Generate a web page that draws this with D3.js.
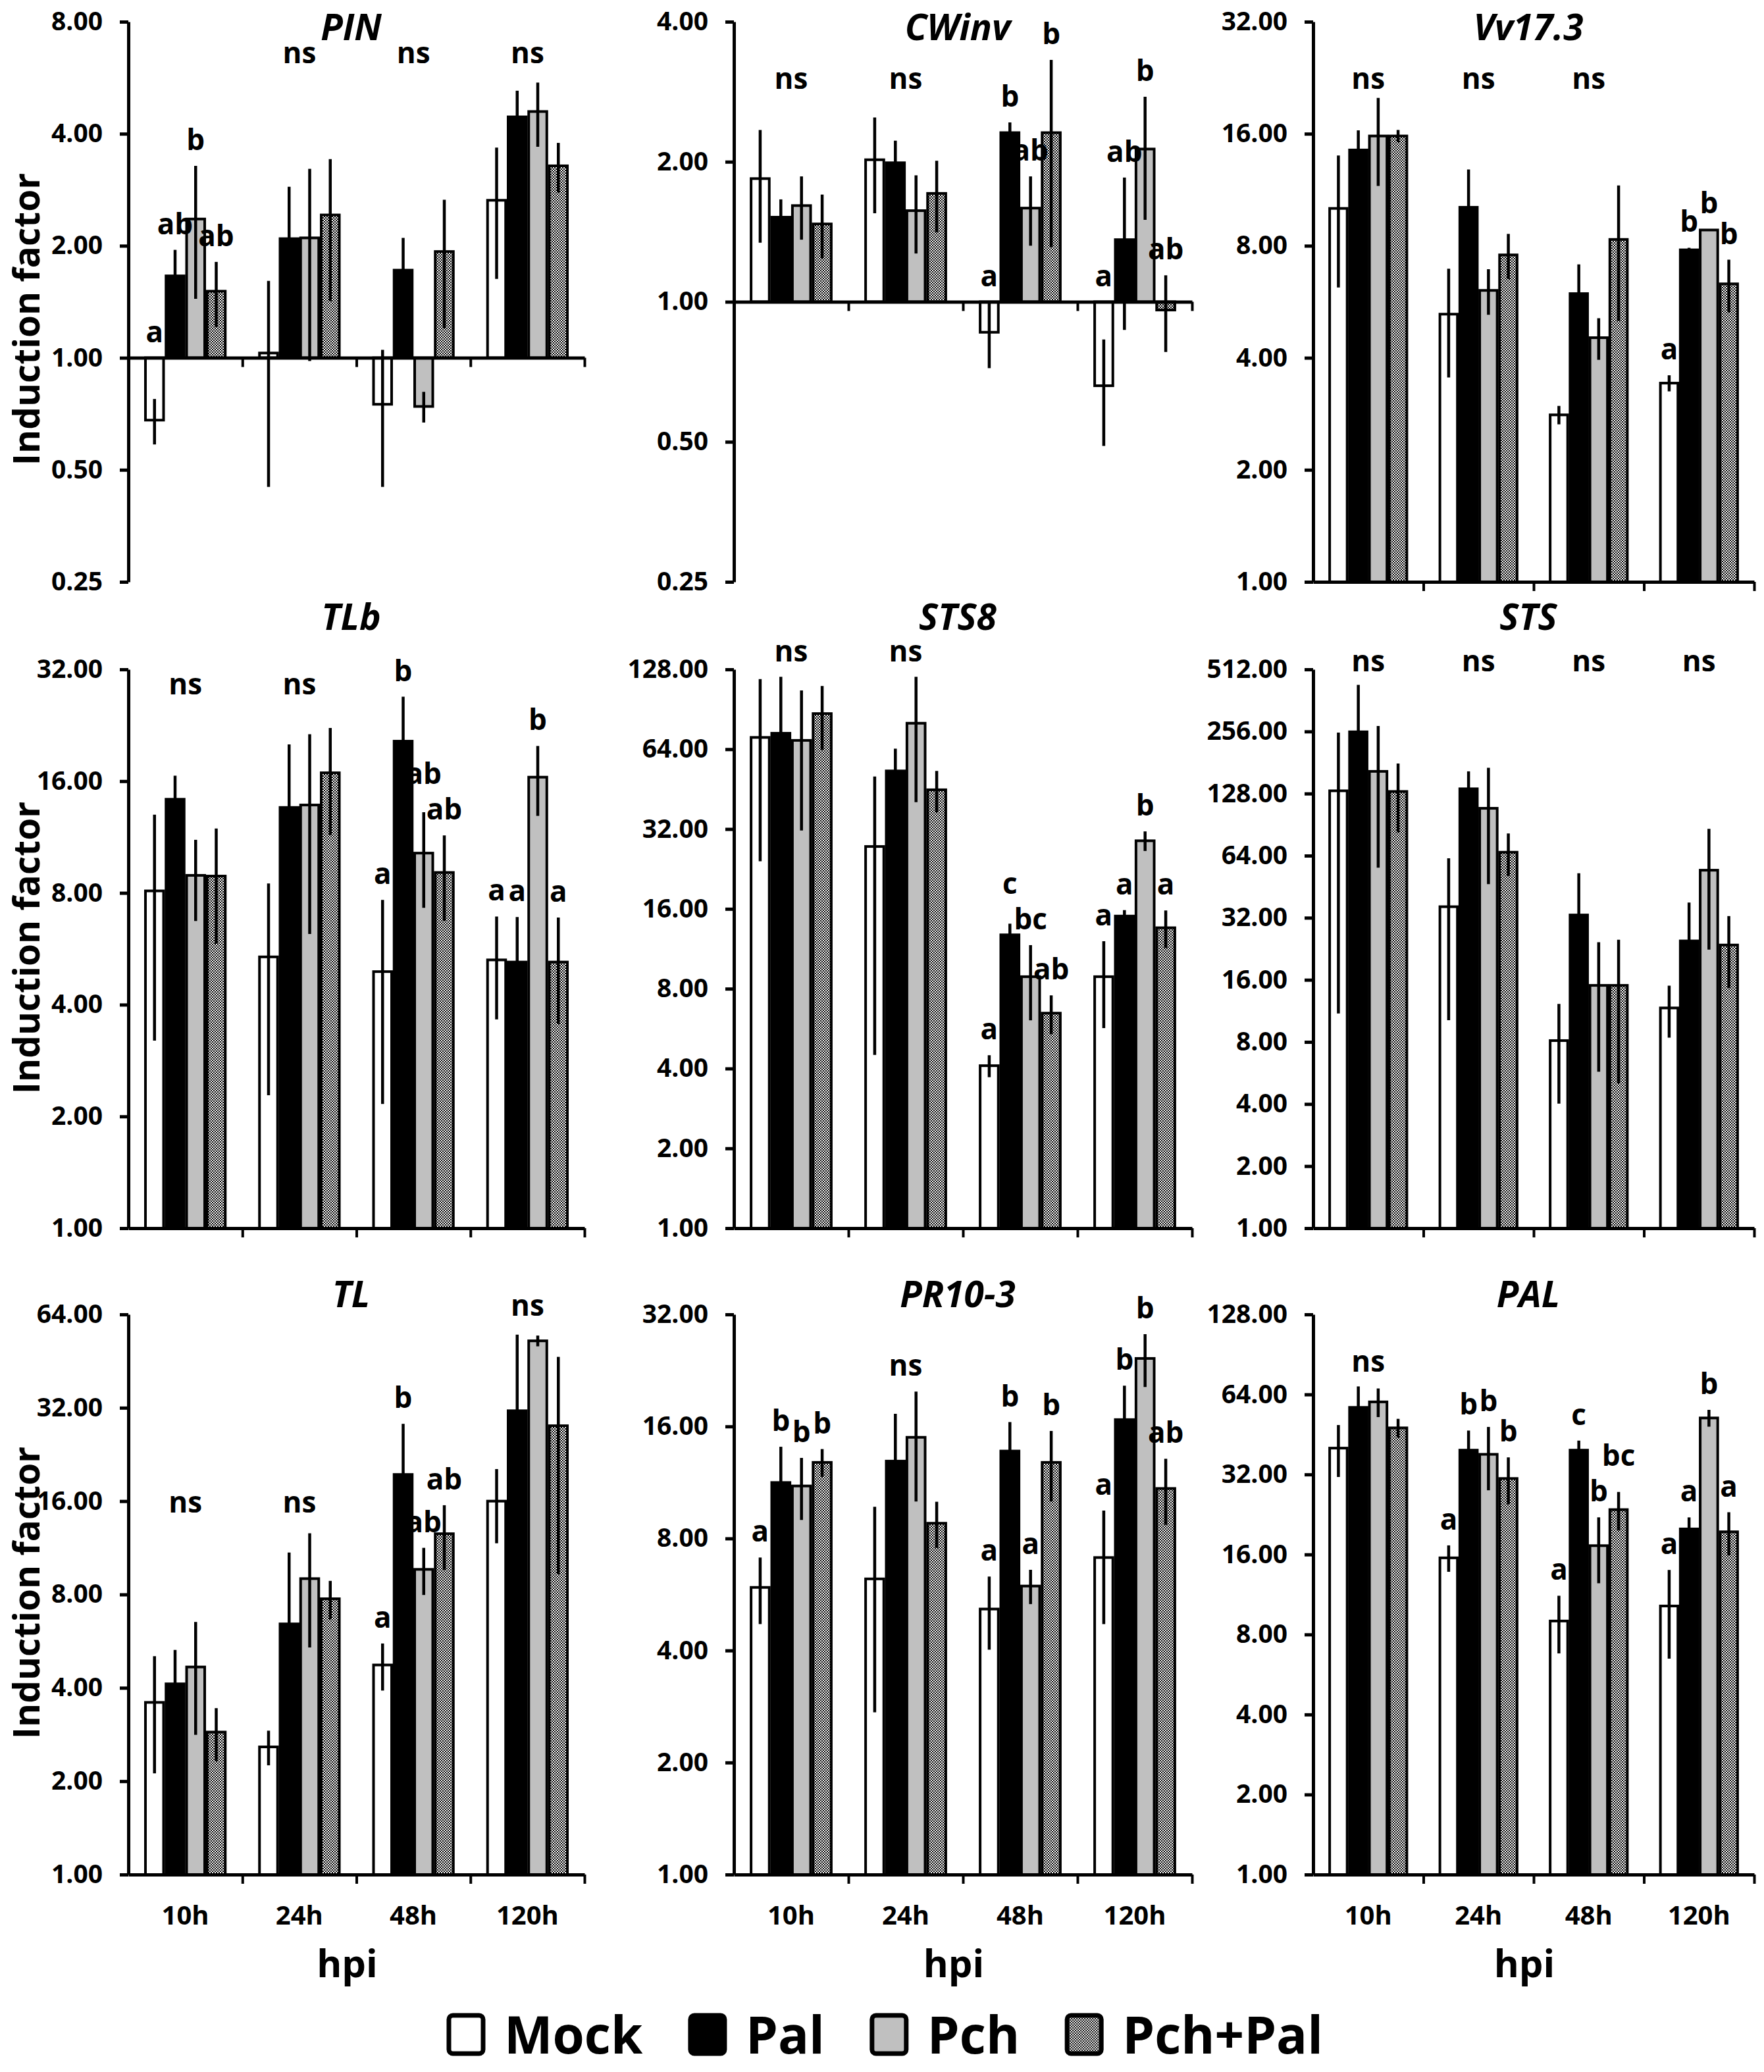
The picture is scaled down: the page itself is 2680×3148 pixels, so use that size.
<!DOCTYPE html>
<html>
<head>
<meta charset="utf-8">
<script src="https://cdnjs.cloudflare.com/ajax/libs/d3/7.8.5/d3.min.js"></script>
<style>
  body { margin: 0; background: #fff; }
  svg { display: block; }
  text { font-family: "Open Sans", sans-serif; font-weight: 700; fill: #000; }
</style>
</head>
<body>
<svg id="chart"></svg>
<script>
var hours = ["10h", "24h", "48h", "120h"];
var treatments = ["Mock", "Pal", "Pch", "Pch+Pal"];
var genes = ["PIN", "CWinv", "Vv17.3", "TLb", "STS8", "STS", "TL", "PR10-3", "PAL"];
var yDomains = [[0.25, 8], [0.25, 4], [1, 32], [1, 32], [1, 128], [1, 512], [1, 64], [1, 32], [1, 128]];

// rows = time points, columns = Mock, Pal, Pch, Pch+Pal
var pinMean = [[0.68, 1.66, 2.36, 1.51], [1.03, 2.09, 2.10, 2.42], [0.75, 1.72, 0.74, 1.93], [2.65, 4.44, 4.59, 3.28]];
var pinSd   = [[0.095, 0.29, 0.92, 0.30], [0.58, 0.79, 1.12, 1.0], [0.30, 0.38, 0.07, 0.73], [1.02, 0.78, 0.90, 0.50]];
var pinSig  = [["a", "ab", "b", "ab"], "ns", "ns", "ns"];
var pinNs   = [null, 6.2, 6.2, 6.2];

var cwinvMean = [[1.84, 1.52, 1.61, 1.47], [2.02, 1.99, 1.57, 1.71], [0.86, 2.31, 1.59, 2.31], [0.66, 1.36, 2.13, 0.96]];
var cwinvSd   = [[0.50, 0.14, 0.25, 0.23], [0.47, 0.23, 0.30, 0.30], [0.14, 0.12, 0.27, 1.0], [0.17, 0.49, 0.63, 0.18]];
var cwinvSig  = ["ns", "ns", ["a", "b", "ab", "b"], ["a", "ab", "b", "ab"]];
var cwinvNs   = [2.87, 2.87, null, null];

var vv173Mean = [[10.08, 14.47, 15.78, 15.78], [5.24, 10.15, 6.07, 7.56], [2.81, 5.95, 4.53, 8.32], [3.42, 7.80, 8.82, 6.32]];
var vv173Sd   = [[3.9, 1.87, 4.2, 0.6], [1.7, 2.67, 0.85, 1.05], [0.16, 1.18, 0.58, 3.3], [0.17, 0.1, 0.05, 1.02]];
var vv173Sig  = ["ns", "ns", "ns", ["a", "b", "b", "b"]];
var vv173Ns   = [21.1, 21.1, 21.1, null];

var tlbMean = [[8.1, 14.3, 8.92, 8.88], [5.38, 13.59, 13.8, 16.85], [4.91, 20.5, 10.24, 9.08], [5.28, 5.21, 16.4, 5.21]];
var tlbSd   = [[4.9, 2.25, 2.2, 3.05], [3.1, 6.5, 7.6, 5.4], [2.75, 6.5, 2.95, 2.35], [1.63, 1.68, 3.5, 1.66]];
var tlbSig  = ["ns", "ns", ["a", "b", "ab", "ab"], ["a", "a", "b", "a"]];
var tlbNs   = [27.4, 27.4, null, null];

var sts8Mean = [[70.9, 73.5, 69.1, 87.2], [27.5, 53.0, 80.2, 45.0], [4.1, 12.77, 8.88, 6.47], [8.88, 15.03, 28.9, 13.58]];
var sts8Sd   = [[46.7, 46.5, 37.5, 23.6], [23, 11.3, 39.8, 8], [0.39, 1.3, 2.8, 1.08], [3.2, 0.8, 2.45, 2.2]];
var sts8Sig  = ["ns", "ns", ["a", "c", "bc", "ab"], ["a", "a", "b", "a"]];
var sts8Ns   = [137, 137, null, null];

var stsMean = [[132, 255, 164, 131], [36.2, 135, 108.6, 66.5], [8.12, 33.0, 15.04, 15.04], [11.69, 24.7, 54.4, 23.6]];
var stsSd   = [[121, 176, 108, 48], [26, 29, 62, 15.5], [4.1, 19.6, 9.3, 10], [3.3, 13.2, 32, 9]];
var stsSig  = ["ns", "ns", "ns", "ns"];
var stsNs   = [502, 502, 502, 502];

var tlMean = [[3.59, 4.12, 4.67, 2.88], [2.58, 6.43, 9.0, 7.75], [4.74, 19.5, 9.64, 12.56], [16.0, 31.3, 52.6, 28.0]];
var tlSd   = [[1.47, 1.18, 1.85, 0.56], [0.33, 4.5, 3.6, 1.1], [0.82, 8.9, 1.67, 2.96], [4.3, 23.8, 2.1, 18.7]];
var tlSig  = ["ns", "ns", ["a", "b", "ab", "ab"], "ns"];
var tlNs   = [14.7, 14.7, null, 63.4];

var pr103Mean = [[5.91, 11.31, 11.07, 12.81], [6.23, 12.91, 14.96, 8.79], [5.17, 13.74, 5.96, 12.81], [7.11, 16.69, 24.37, 10.9]];
var pr103Sd   = [[1.2, 2.8, 2.1, 1.1], [3.5, 4.4, 4.9, 1.25], [1.15, 2.7, 0.63, 2.75], [2.4, 3.9, 3.95, 2.2]];
var pr103Sig  = [["a", "b", "b", "b"], "ns", ["a", "b", "a", "b"], ["a", "b", "b", "ab"]];
var pr103Ns   = [null, 21.9, null, null];

var palMean = [[40.2, 57.2, 60.0, 47.9], [15.54, 39.5, 38.1, 30.9], [8.99, 39.5, 17.27, 23.6], [10.24, 19.96, 52.2, 19.47]];
var palSd   = [[8.9, 11.4, 7.4, 3.9], [1.77, 7.3, 10.2, 6.2], [2.2, 3.4, 4.8, 3.9], [3.75, 2.1, 3.8, 3.6]];
var palSig  = ["ns", ["a", "b", "b", "b"], ["a", "c", "b", "bc"], ["a", "a", "b", "a"]];
var palNs   = [78, null, null, null];

var means = [pinMean, cwinvMean, vv173Mean, tlbMean, sts8Mean, stsMean, tlMean, pr103Mean, palMean];
var sds = [pinSd, cwinvSd, vv173Sd, tlbSd, sts8Sd, stsSd, tlSd, pr103Sd, palSd];
var sigs = [pinSig, cwinvSig, vv173Sig, tlbSig, sts8Sig, stsSig, tlSig, pr103Sig, palSig];
var nsLevels = [pinNs, cwinvNs, vv173Ns, tlbNs, sts8Ns, stsNs, tlNs, pr103Ns, palNs];

var width = 2680, height = 3148;
var cols = [[195, 888], [1115, 1811], [1995, 2665]];
var rows = [[33, 884], [1017, 1866], [1997, 2848]];
var titleY = [61, 957, 1986];
var yLabelY = [485, 1440, 2420];
var letterSize = 44;

var svg = d3.select("#chart")
  .attr("width", width)
  .attr("height", height);

var defs = svg.append("defs");
var pat = defs.append("pattern")
  .attr("id", "checker")
  .attr("width", 4).attr("height", 4)
  .attr("patternUnits", "userSpaceOnUse");
pat.append("rect").attr("width", 4).attr("height", 4).attr("fill", "#fff");
pat.append("rect").attr("width", 2).attr("height", 2).attr("fill", "#000");
pat.append("rect").attr("x", 2).attr("y", 2).attr("width", 2).attr("height", 2).attr("fill", "#000");

var fills = d3.scaleOrdinal()
  .domain(treatments)
  .range(["#ffffff", "#000000", "#c0c0c0", "url(#checker)"]);

function styleTicks(sel, size) {
  sel.selectAll(".tick text")
    .attr("font-family", "'Open Sans', sans-serif")
    .attr("font-weight", 700)
    .attr("font-size", size);
}

genes.forEach(function(gene, i) {
  var c = i % 3, r = Math.floor(i / 3);
  var x0 = cols[c][0], x1 = cols[c][1];
  var y0 = rows[r][0], y1 = rows[r][1];
  var lo = yDomains[i][0], hi = yDomains[i][1];

  var y = d3.scaleLog().base(2).domain([lo, hi]).range([y1, y0]);
  var x = d3.scaleBand().domain(hours).range([x0, x1]);
  var xs = d3.scaleBand().domain(treatments)
    .range([x.bandwidth() * 0.15, x.bandwidth() * 0.85])
    .paddingInner(0.12);
  var xb = d3.scaleLinear().domain([0, 4]).range([x0, x1]);

  var ticks = [];
  for (var v = lo; v <= hi * 1.0001; v *= 2) ticks.push(v);

  var g = svg.append("g").attr("class", "panel");

  var rowsData = [];
  hours.forEach(function(h, k) {
    treatments.forEach(function(t, ti) {
      rowsData.push({
        hour: h, treat: t, ti: ti,
        mean: means[i][k][ti], sd: sds[i][k][ti],
        sig: sigs[i][k]
      });
    });
  });
  function cx(d) { return x(d.hour) + xs(d.treat) + xs.bandwidth() / 2; }

  // bars grow from 1.00 up or down
  g.selectAll("rect.bar")
    .data(rowsData)
    .enter().append("rect")
    .attr("class", "bar")
    .attr("x", function(d) { return x(d.hour) + xs(d.treat); })
    .attr("width", xs.bandwidth())
    .attr("y", function(d) { return y(Math.max(d.mean, 1)); })
    .attr("height", function(d) { return Math.abs(y(d.mean) - y(1)); })
    .attr("fill", function(d) { return fills(d.treat); })
    .attr("stroke", "#000")
    .attr("stroke-width", 4);

  // error bars (mean +/- SD)
  g.selectAll("line.err")
    .data(rowsData)
    .enter().append("line")
    .attr("class", "err")
    .attr("x1", cx)
    .attr("x2", cx)
    .attr("y1", function(d) { return y(Math.min(d.mean + d.sd, hi)); })
    .attr("y2", function(d) { return y(Math.max(d.mean - d.sd, lo)); })
    .attr("stroke", "#000")
    .attr("stroke-width", 4.5);

  // y axis
  var ya = g.append("g")
    .attr("transform", "translate(" + x0 + ",0)")
    .call(d3.axisLeft(y).tickValues(ticks).tickFormat(d3.format(".2f")).tickSize(13).tickSizeOuter(0).tickPadding(26));
  ya.select(".domain").attr("stroke-width", 5);
  ya.selectAll(".tick line").attr("stroke-width", 5);
  styleTicks(ya, 39);

  // x axis at 1.00 with separators between time points
  var xa = g.append("g")
    .attr("transform", "translate(0," + y(1) + ")")
    .call(d3.axisBottom(xb).tickValues([1, 2, 3, 4]).tickFormat("").tickSize(14).tickSizeOuter(0));
  xa.select(".domain").attr("stroke-width", 5);
  xa.selectAll(".tick line").attr("stroke-width", 4);

  if (r === 2) {
    var xl = g.append("g")
      .attr("transform", "translate(0," + y1 + ")")
      .call(d3.axisBottom(x).tickSize(0).tickPadding(48));
    xl.select(".domain").remove();
    styleTicks(xl, 40);

    g.append("text")
      .attr("x", (x0 + x1) / 2 - 14)
      .attr("y", 3004)
      .attr("text-anchor", "middle")
      .attr("font-size", 58)
      .text("hpi");
  }

  // significance letters above each bar, nudged apart where they collide
  hours.forEach(function(h, k) {
    var sig = sigs[i][k];
    if (!Array.isArray(sig)) return;
    var labs = rowsData.filter(function(d) { return d.hour === h; }).map(function(d) {
      return {
        text: sig[d.ti],
        x: cx(d),
        y: y(Math.max(d.mean + d.sd, 1)) - 24,
        w: sig[d.ti].length * letterSize * 0.62
      };
    });
    for (var n = 1; n < labs.length; n++) {
      var a = labs[n - 1], b = labs[n];
      var hOverlap = Math.abs(a.x - b.x) < (a.w + b.w) / 2;
      if (hOverlap && Math.abs(a.y - b.y) < 54) {
        if (a.y < b.y) a.y = b.y - 54; else b.y = a.y - 54;
      }
    }
    g.selectAll(null)
      .data(labs)
      .enter().append("text")
      .attr("class", "sig")
      .attr("x", function(d) { return d.x; })
      .attr("y", function(d) { return d.y; })
      .attr("text-anchor", "middle")
      .attr("font-size", letterSize)
      .text(function(d) { return d.text; });
  });

  var nsData = hours.filter(function(h, k) { return sigs[i][k] === "ns"; });
  g.selectAll("text.ns")
    .data(nsData)
    .enter().append("text")
    .attr("class", "ns")
    .attr("x", function(h) { return x(h) + x.bandwidth() / 2; })
    .attr("y", function(h) { return y(nsLevels[i][hours.indexOf(h)]); })
    .attr("text-anchor", "middle")
    .attr("font-size", letterSize)
    .text("ns");

  // gene name
  g.append("text")
    .attr("x", (x0 + x1) / 2 - 8)
    .attr("y", titleY[r])
    .attr("text-anchor", "middle")
    .attr("font-size", 55)
    .attr("font-style", "italic")
    .text(gene);

  if (c === 0) {
    g.append("text")
      .attr("transform", "translate(60," + yLabelY[r] + ") rotate(-90)")
      .attr("text-anchor", "middle")
      .attr("font-size", 55)
      .text("Induction factor");
  }
});

// legend
var legend = svg.append("g").attr("class", "legend");
var lx = 0;
var items = legend.selectAll("g")
  .data(treatments)
  .enter().append("g");
items.append("rect")
  .attr("width", 52).attr("height", 58)
  .attr("y", -58).attr("rx", 6)
  .attr("fill", function(d) { return fills(d); })
  .attr("stroke", "#000")
  .attr("stroke-width", 7);
items.append("text")
  .attr("x", 84)
  .attr("font-size", 78)
  .text(function(d) { return d; });
items.each(function() {
  var w = this.getBBox().width;
  d3.select(this).attr("transform", "translate(" + lx + ",0)");
  lx += w + 72;
});
var legendW = lx - 72;
legend.attr("transform", "translate(" + (1346 - legendW / 2) + ",3120)");
</script>
</body>
</html>
